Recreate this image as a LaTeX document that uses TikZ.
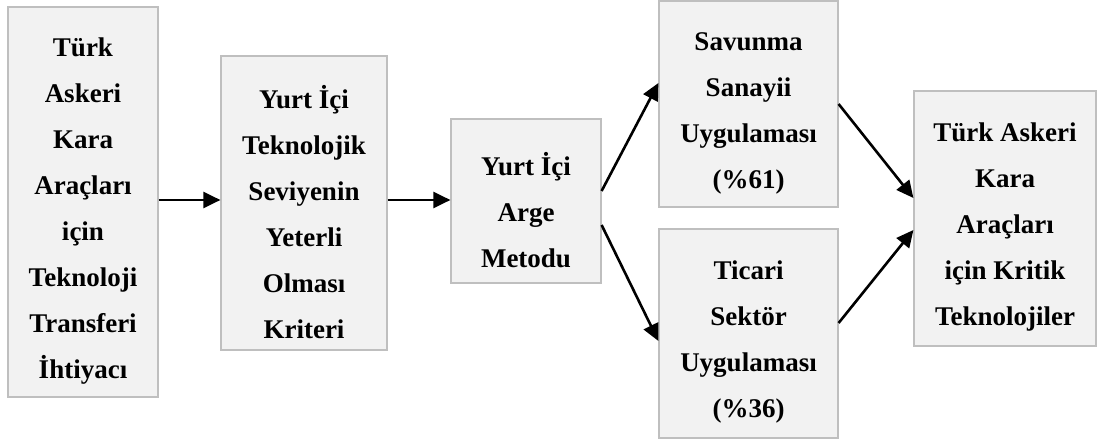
\documentclass[tikz,border=0pt]{standalone}
\usepackage{fontspec}
\setmainfont{Liberation Serif}
\usetikzlibrary{arrows.meta}
\definecolor{boxfill}{HTML}{F2F2F2}
\definecolor{boxline}{HTML}{BFBFBF}
\tikzset{
  box/.style={draw=boxline, fill=boxfill, line width=1.2pt, inner sep=0pt},
  txt/.style={align=center, inner sep=0pt, font=\bfseries\fontsize{27}{46}\selectfont},
  arr/.style={line width=2.6pt, -{Triangle[length=17pt,width=16pt]}}
}
\begin{document}
\begin{tikzpicture}[x=1pt,y=-1pt]
\useasboundingbox (0,0) rectangle (1099,443);
\node[box, minimum width=150pt, minimum height=390pt] (b1) at (83,202) {};
\node[box, minimum width=166pt, minimum height=294pt] (b2) at (304,203) {};
\node[box, minimum width=150pt, minimum height=164pt] (b3) at (526,201) {};
\node[box, minimum width=179pt, minimum height=206pt] (b4) at (748.5,104) {};
\node[box, minimum width=179pt, minimum height=209pt] (b5) at (748.5,333.5) {};
\node[box, minimum width=182pt, minimum height=255pt] (b6) at (1005,218.5) {};
\node[txt] (t1) at ([yshift=-9pt]b1.center) {Türk\\Askeri\\Kara\\Araçları\\için\\Teknoloji\\Transferi\\İhtiyacı};
\node[txt] (t2) at ([yshift=-9pt]b2.center) {Yurt İçi\\Teknolojik\\Seviyenin\\Yeterli\\Olması\\Kriteri};
\node[txt] (t3) at ([yshift=-9pt]b3.center) {Yurt İçi\\Arge\\Metodu};
\node[txt] (t4) at ([yshift=-9pt]b4.center) {Savunma\\Sanayii\\Uygulaması\\(\%61)};
\node[txt] (t5) at ([yshift=-9pt]b5.center) {Ticari\\Sektör\\Uygulaması\\(\%36)};
\node[txt] (t6) at ([yshift=-9pt]b6.center) {Türk Askeri\\Kara\\Araçları\\için Kritik\\Teknolojiler};
\draw[arr] ([yshift=2pt]b1.east) -- ([yshift=2pt]b1.east -| b2.west);
\draw[arr] ([yshift=3pt]b2.east) -- ([yshift=3pt]b2.east -| b3.west);
\draw[arr] ([yshift=10pt]b3.east) -- ([yshift=21pt]b4.west);
\draw[arr] ([yshift=-24pt]b3.east) -- ([yshift=-7.5pt]b5.west);
\draw[arr] (b4.east) -- ([yshift=20.5pt]b6.west);
\draw[arr] ([yshift=10.5pt]b5.east) -- ([yshift=-11.5pt]b6.west);
\end{tikzpicture}
\end{document}
